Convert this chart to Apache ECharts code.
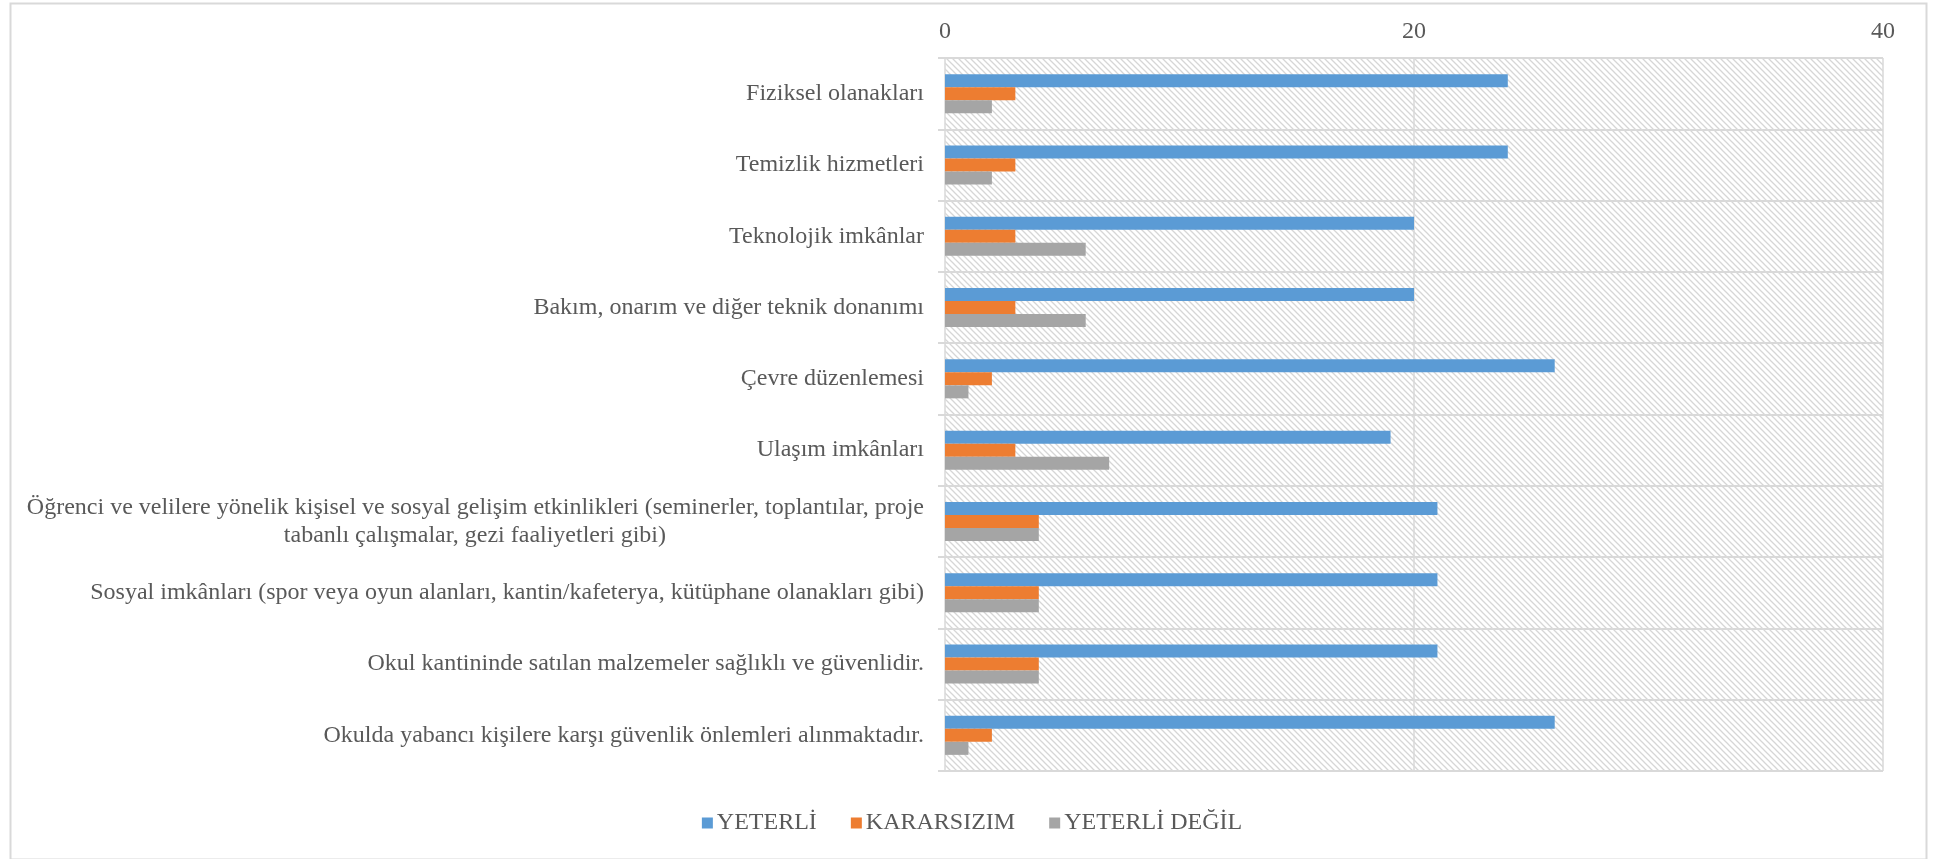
<!DOCTYPE html>
<html>
<head>
<meta charset="utf-8">
<script src="https://cdn.jsdelivr.net/npm/echarts@6/dist/echarts.min.js"></script>
<style>
html,body{margin:0;padding:0;background:#fff;}
#chart{width:1944px;height:859px;}
</style>
</head>
<body>
<div id="chart"></div>
<script>
const categories = [
  "Fiziksel olanakları",
  "Temizlik hizmetleri",
  "Teknolojik imkânlar",
  "Bakım, onarım ve diğer teknik donanımı",
  "Çevre düzenlemesi",
  "Ulaşım imkânları",
  "Öğrenci ve velilere yönelik kişisel ve sosyal gelişim etkinlikleri (seminerler, toplantılar, proje\ntabanlı çalışmalar, gezi faaliyetleri gibi)",
  "Sosyal imkânları (spor veya oyun alanları, kantin/kafeterya, kütüphane olanakları gibi)",
  "Okul kantininde satılan malzemeler sağlıklı ve güvenlidir.",
  "Okulda yabancı kişilere karşı güvenlik önlemleri alınmaktadır."
];
const seriesNames = ["YETERLİ", "KARARSIZIM", "YETERLİ DEĞİL"];
const yeterli     = [24, 24, 20, 20, 26, 19, 21, 21, 21, 26];
const kararsizim  = [3, 3, 3, 3, 2, 3, 4, 4, 4, 2];
const yeterliDegil= [2, 2, 6, 6, 1, 7, 4, 4, 4, 1];
const xTicks = { min: 0, max: 40, interval: 20 };

// hatch pattern for plot background
const pc = document.createElement('canvas');
pc.width = 6; pc.height = 6;
const g = pc.getContext('2d');
g.fillStyle = '#ffffff'; g.fillRect(0,0,6,6);
g.strokeStyle = '#d6d6d6'; g.lineWidth = 1.3;
g.beginPath();
g.moveTo(-1,-1); g.lineTo(7,7);
g.moveTo(-1,5); g.lineTo(1,7);
g.moveTo(5,-1); g.lineTo(7,1);
g.stroke();

const FONT = '"Liberation Serif", "Times New Roman", serif';
const TXT = '#595959';

// Display form of the category names: wrapped lines are centred under the
// longest line by padding shorter lines on the right with no-break spaces.
const mc = document.createElement('canvas').getContext('2d');
mc.font = '24px "Liberation Serif"';
const NBSP = '\u00A0';
const nbspW = mc.measureText(NBSP).width || 6;
function centreLines(v) {
  const lines = String(v).split('\n');
  if (lines.length === 1) return v;
  const widths = lines.map(function (l) { return mc.measureText(l).width; });
  const w = Math.max.apply(null, widths);
  return lines.map(function (l, i) {
    const n = Math.round((w - widths[i]) / 2 / nbspW);
    return l + NBSP.repeat(n);
  }).join('\n');
}
const categoryLabels = categories.map(centreLines);

const chart = echarts.init(document.getElementById('chart'), null, {renderer:'canvas'});
chart.setOption({
  animation: false,
  backgroundColor: '#ffffff',
  graphic: [{
    type: 'rect', left: 8, top: 1,
    shape: { width: 1916, height: 856 },
    style: { fill: 'none', stroke: '#d9d9d9', lineWidth: 2 },
    silent: true, z: -10
  }],
  grid: {
    left: 945, right: 61, top: 58, bottom: 88,
    show: true,
    backgroundColor: { image: pc, repeat: 'repeat' },
    borderWidth: 0
  },
  legend: {
    data: seriesNames,
    left: 'center',
    top: 806,
    icon: 'rect',
    itemWidth: 11,
    itemHeight: 11,
    itemGap: 34,
    textStyle: { fontFamily: FONT, fontSize: 24, color: TXT, padding: [0,0,0,-1] }
  },
  xAxis: {
    type: 'value',
    position: 'top',
    min: xTicks.min, max: xTicks.max, interval: xTicks.interval,
    axisLine: { show: false },
    axisTick: { show: false },
    axisLabel: { fontFamily: FONT, fontSize: 24, color: TXT, margin: 14 },
    splitLine: { show: true, lineStyle: { color: '#d9d9d9', width: 1.5 } }
  },
  yAxis: {
    type: 'category',
    inverse: true,
    data: categoryLabels,
    axisLine: { show: false },
    axisTick: { show: true, length: 7, lineStyle: { color: '#d9d9d9', width: 2 } },
    splitLine: { show: true, lineStyle: { color: '#d9d9d9', width: 2 } },
    axisLabel: { margin: 21, fontFamily: FONT, fontSize: 24, color: TXT, lineHeight: 28 }
  },
  series: [
    { name: seriesNames[0], type: 'bar', data: yeterli, barWidth: 13, barGap: '0%', itemStyle: { color: '#5B9BD5' } },
    { name: seriesNames[1], type: 'bar', data: kararsizim, barWidth: 13, barGap: '0%', itemStyle: { color: '#ED7D31' } },
    { name: seriesNames[2], type: 'bar', data: yeterliDegil, barWidth: 13, barGap: '0%', itemStyle: { color: '#A5A5A5' } }
  ]
});
</script>
</body>
</html>
